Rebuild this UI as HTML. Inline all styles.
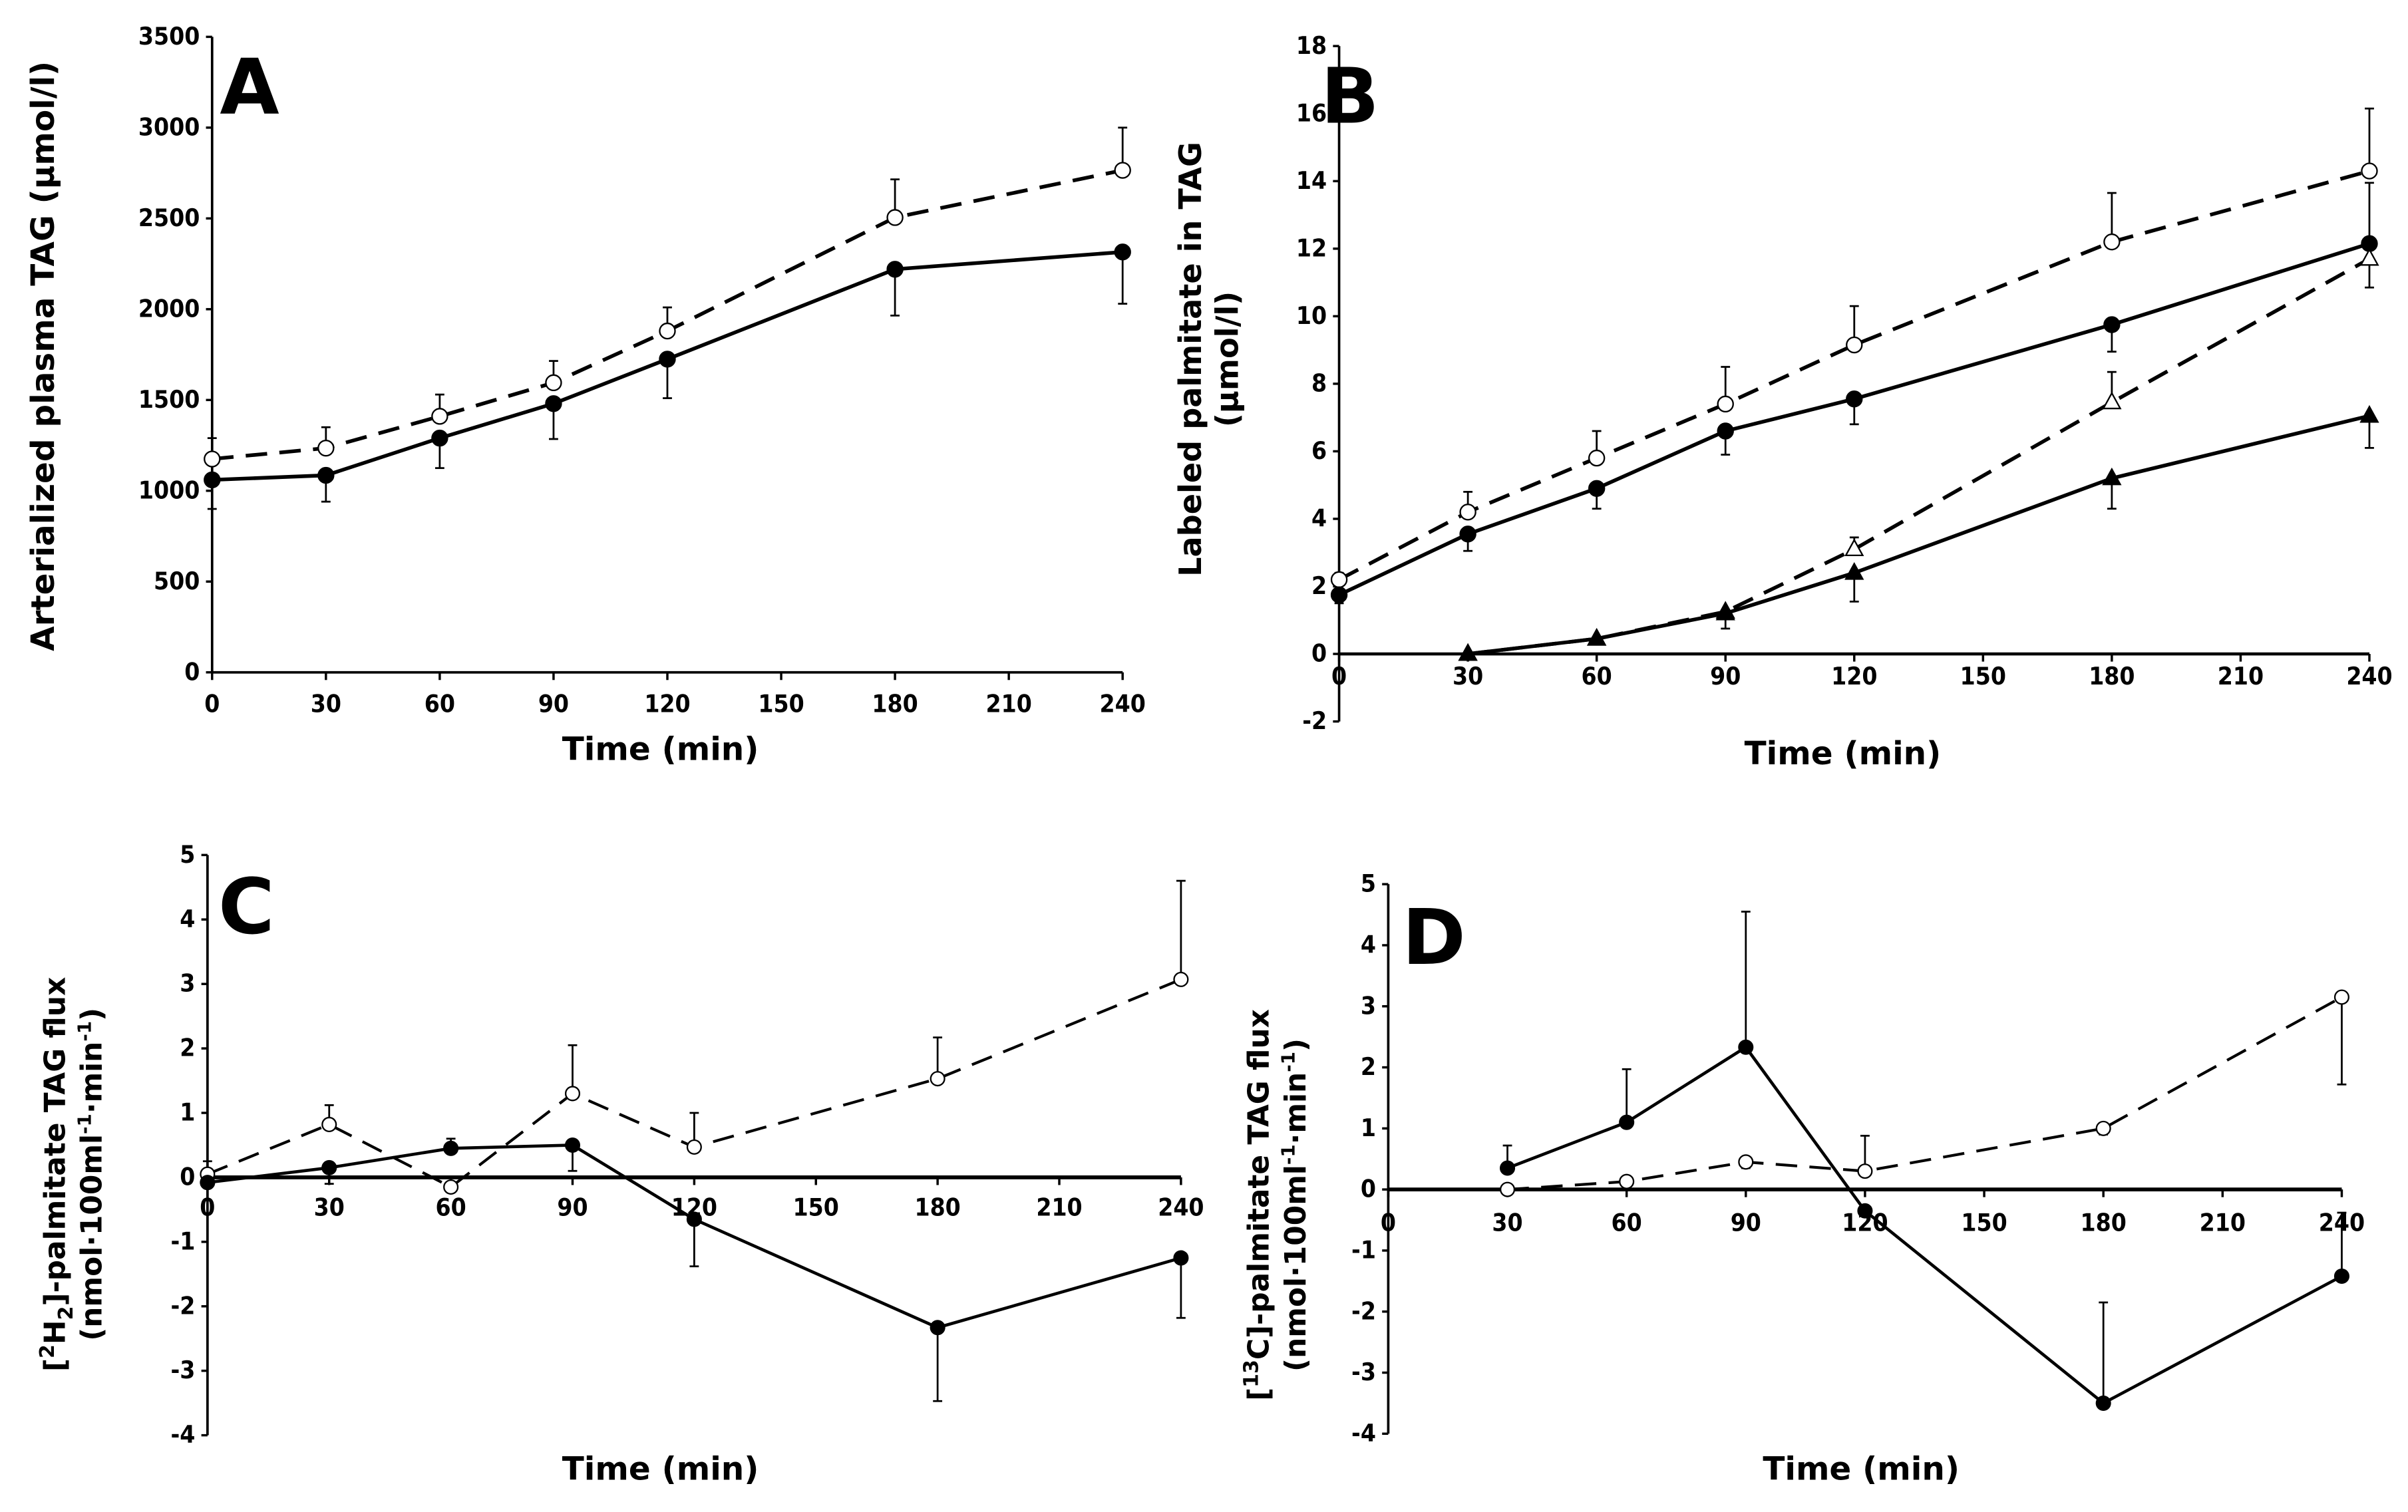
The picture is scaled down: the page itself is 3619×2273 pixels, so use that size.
<!DOCTYPE html>
<html><head><meta charset="utf-8">
<style>
html,body{margin:0;padding:0;background:#fff;}
svg{display:block;}
text{font-family:"DejaVu Sans","Liberation Sans",sans-serif;font-weight:bold;fill:#000;}
.tick{font-family:"DejaVu Sans Condensed","DejaVu Sans","Liberation Sans",sans-serif;font-size:16px;}
</style></head>
<body>
<svg id="fig" width="3619" height="2273" viewBox="0 0 1568 985" xmlns="http://www.w3.org/2000/svg"></svg>
<script>
// ---- data ----
const timeA = [0,30,60,90,120,180,240];
const aFilled = [1060,1085,1290,1480,1725,2220,2315];
const aFilledErr = [900,940,1125,1285,1510,1965,2030];
const aOpen = [1175,1235,1410,1595,1880,2505,2765];
const aOpenErr = [1290,1350,1530,1715,2010,2715,3000];
const aYTicks = [0,500,1000,1500,2000,2500,3000,3500];
const xTicks = [0,30,60,90,120,150,180,210,240];

const timeB = [0,30,60,90,120,180,240];
const bOpenCirc = [2.2,4.2,5.8,7.4,9.15,12.2,14.3];
const bOpenCircErr = [2.4,4.8,6.6,8.5,10.3,13.65,16.15];
const bFilledCirc = [1.75,3.55,4.9,6.6,7.55,9.75,12.15];
const bFilledCircErr = [1.5,3.05,4.3,5.9,6.8,8.95,13.95];
const timeBTri = [30,60,90,120,180,240];
const bOpenTri = [0,0.45,1.25,3.1,7.45,11.7];
const bOpenTriErr = [0,0.5,1.3,3.45,8.35,10.85];
const bFilledTri = [0,0.45,1.2,2.4,5.2,7.05];
const bFilledTriErr = [0,0.4,0.75,1.55,4.3,6.1];
const bYTicks = [-2,0,2,4,6,8,10,12,14,16,18];

const timeC = [0,30,60,90,120,180,240];
const cOpen = [0.05,0.82,-0.15,1.3,0.47,1.53,3.07];
const cOpenErr = [0.25,1.12,-0.15,2.05,1.0,2.17,4.6];
const cFilled = [-0.08,0.15,0.45,0.5,-0.65,-2.33,-1.25];
const cFilledErr = [-0.08,-0.1,0.6,0.1,-1.38,-3.47,-2.18];
const cdYTicks = [-4,-3,-2,-1,0,1,2,3,4,5];

const timeD = [30,60,90,120,180,240];
const dFilled = [0.35,1.1,2.33,-0.35,-3.5,-1.42];
const dFilledErr = [0.72,1.97,4.55,-0.35,-1.85,-0.38];
const dOpen = [0,0.13,0.45,0.3,1.0,3.15];
const dOpenErr = [0,0.13,0.35,0.88,0.9,1.72];

const NS="http://www.w3.org/2000/svg";
const svg=document.getElementById('fig');
function el(tag,attrs,parent){const e=document.createElementNS(NS,tag);for(const k in attrs)e.setAttribute(k,attrs[k]);(parent||svg).appendChild(e);return e;}

function panel(cfg){
  const g=el('g',{});
  
  
  const sx=v=>cfg.x0+(v-0)/240*(cfg.x1-cfg.x0);
  const sy=v=>cfg.yb+(v-cfg.ymin)/(cfg.ymax-cfg.ymin)*(cfg.yt-cfg.yb);
  const ya=el('line',{x1:cfg.x0,y1:sy(cfg.ymin),x2:cfg.x0,y2:sy(cfg.ymax),stroke:'#000','stroke-width':1.6},g);
  
  
  cfg.yticks.forEach(t=>{
    el('line',{x1:cfg.x0-4,y1:sy(t),x2:cfg.x0,y2:sy(t),stroke:'#000','stroke-width':1.5},g);
    const tx=el('text',{x:cfg.x0-8,y:sy(t)+5,'text-anchor':'end',class:'tick'},g);
    tx.textContent=t;
    
    
  });
  const y0=sy(0);
  const xa=el('line',{x1:cfg.x0,y1:y0,x2:cfg.x1,y2:y0,stroke:'#000','stroke-width':cfg.zeroW||1.6},g);
  
  
  xTicks.forEach(t=>{
    el('line',{x1:sx(t),y1:y0,x2:sx(t),y2:y0+5,stroke:'#000','stroke-width':1.5},g);
    const tx=el('text',{x:sx(t),y:y0+cfg.xlabOff,'text-anchor':'middle',class:'tick'},g);
    tx.textContent=t;
    
    
  });
  const xt=el('text',{x:cfg.xtx,y:cfg.xty,'text-anchor':'middle','font-size':21},g);
  xt.textContent='Time (min)';
  
  
  cfg.ytitle.forEach((ln,i)=>{
    const t=el('text',{x:0,y:0,'text-anchor':'middle','font-size':ln.s||20,transform:`translate(${ln.x},${cfg.ytc}) rotate(-90)`},g);
    t.innerHTML=ln.t;
    
    
  });
  const L=el('text',{x:cfg.lx,y:cfg.ly,'font-size':50,'font-family':'Liberation Sans'},g);
  L.textContent=cfg.letter;
  
  
  cfg.series.forEach(s=>{
    const sg=el('g',{},g);
    
    
    s.x.forEach((xv,i)=>{
      const e=s.err[i]; if(e===s.y[i])return;
      const px=sx(xv);
      el('line',{x1:px,y1:sy(s.y[i]),x2:px,y2:sy(e),stroke:'#000','stroke-width':1.2},sg);
      el('line',{x1:px-3,y1:sy(e),x2:px+3,y2:sy(e),stroke:'#000','stroke-width':1.2},sg);
    });
    const pts=s.x.map((xv,i)=>sx(xv)+','+sy(s.y[i])).join(' ');
    el('polyline',{points:pts,fill:'none',stroke:'#000','stroke-width':s.lw||2.4,'stroke-dasharray':s.dash?'14,8':'none'},sg);
    s.x.forEach((xv,i)=>{
      const px=sx(xv),py=sy(s.y[i]);let m;
      if(s.marker==='circle') m=el('circle',{cx:px,cy:py,r:s.r||5,fill:s.fill,stroke:'#000','stroke-width':1},sg);
      else m=el('polygon',{points:`${px},${py-6} ${px-5.5},${py+4} ${px+5.5},${py+4}`,fill:s.fill,stroke:'#000','stroke-width':1},sg);
      
      
    });
  });
}

panel({name:'panel-a',letter:'A',x0:138,x1:731,yb:438,yt:24,ymin:0,ymax:3500,yticks:aYTicks,xlabOff:26,
  xtx:430,xty:495,ytc:232,ytitle:[{x:35,t:'Arterialized plasma TAG (µmol/l)',s:21}],lx:143,ly:74,
  series:[
    {name:'series-a-open',x:timeA,y:aOpen,err:aOpenErr,marker:'circle',fill:'#fff',dash:true},
    {name:'series-a-filled',x:timeA,y:aFilled,err:aFilledErr,marker:'circle',fill:'#000'}]});

panel({name:'panel-b',letter:'B',x0:872,x1:1543,yb:470,yt:30,ymin:-2,ymax:18,yticks:bYTicks,xlabOff:20,zeroW:2,
  xtx:1200,xty:498,ytc:234,ytitle:[{x:782,t:'Labeled palmitate in TAG'},{x:806,t:'(µmol/l)'}],lx:860,ly:80,
  series:[
    {name:'series-b-open-circle',x:timeB,y:bOpenCirc,err:bOpenCircErr,marker:'circle',fill:'#fff',dash:true},
    {name:'series-b-filled-circle',x:timeB,y:bFilledCirc,err:bFilledCircErr,marker:'circle',fill:'#000'},
    {name:'series-b-open-triangle',x:timeBTri,y:bOpenTri,err:bOpenTriErr,marker:'tri',fill:'#fff',dash:true},
    {name:'series-b-filled-triangle',x:timeBTri,y:bFilledTri,err:bFilledTriErr,marker:'tri',fill:'#000'}]});

panel({name:'panel-c',letter:'C',x0:135,x1:769,yb:935,yt:557,ymin:-4,ymax:5,yticks:cdYTicks,xlabOff:25,zeroW:2.5,
  xtx:430,xty:964,ytc:765,ytitle:[{x:42,t:'[<tspan font-size="13" dy="-7">2</tspan><tspan dy="7">H</tspan><tspan font-size="13" dy="5">2</tspan><tspan dy="-5">]-palmitate TAG flux</tspan>',s:19},{x:66,t:'(nmol·100ml<tspan font-size="12" dy="-7">-1</tspan><tspan dy="7">·min</tspan><tspan font-size="12" dy="-7">-1</tspan><tspan dy="7">)</tspan>',s:19}],lx:142,ly:608,
  series:[
    {name:'series-c-open',x:timeC,y:cOpen,err:cOpenErr,marker:'circle',fill:'#fff',dash:true,r:4.5,lw:1.8},
    {name:'series-c-filled',x:timeC,y:cFilled,err:cFilledErr,marker:'circle',fill:'#000',r:4.5,lw:2}]});

panel({name:'panel-d',letter:'D',x0:904,x1:1525,yb:934,yt:576,ymin:-4,ymax:5,yticks:cdYTicks,xlabOff:27,zeroW:2.5,
  xtx:1212,xty:964,ytc:785,ytitle:[{x:826,t:'[<tspan font-size="13" dy="-7">13</tspan><tspan dy="7">C]-palmitate TAG flux</tspan>',s:19},{x:850,t:'(nmol·100ml<tspan font-size="12" dy="-7">-1</tspan><tspan dy="7">·min</tspan><tspan font-size="12" dy="-7">-1</tspan><tspan dy="7">)</tspan>',s:19}],lx:913,ly:628,
  series:[
    {name:'series-d-open',x:timeD,y:dOpen,err:dOpenErr,marker:'circle',fill:'#fff',dash:true,r:4.5,lw:1.8},
    {name:'series-d-filled',x:timeD,y:dFilled,err:dFilledErr,marker:'circle',fill:'#000',r:4.5,lw:2}]});
</script>
</body></html>
